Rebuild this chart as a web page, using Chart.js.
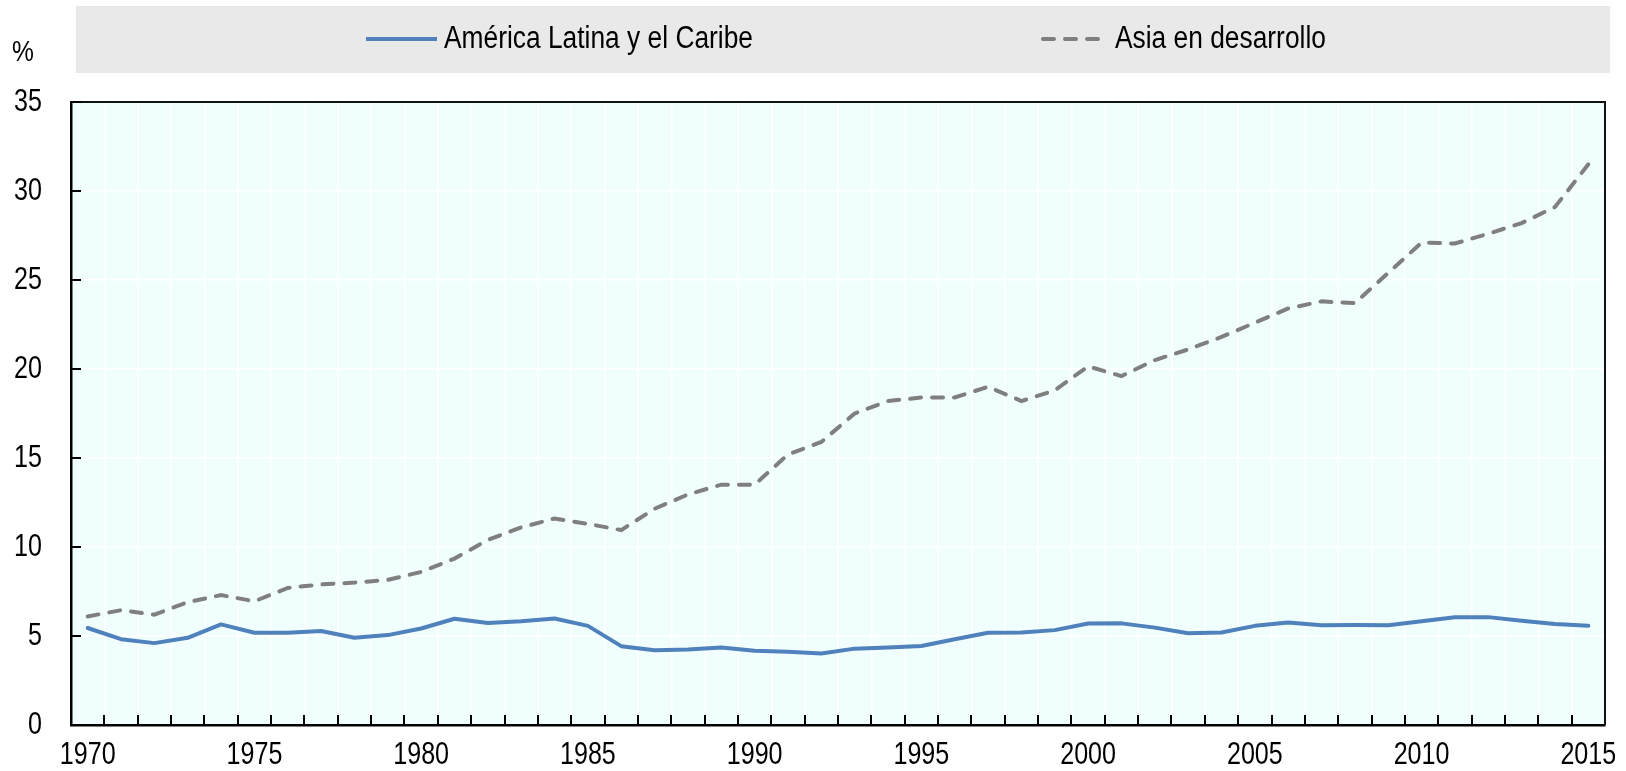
<!DOCTYPE html>
<html>
<head>
<meta charset="utf-8">
<script src="https://cdn.jsdelivr.net/npm/chart.js@4.4.1/dist/chart.umd.min.js"></script>
<style>
  html, body { margin: 0; padding: 0; background: #fff; }
  #wrap { width: 1626px; height: 771px; }
</style>
</head>
<body>
<div id="wrap"><canvas id="chart" width="1626" height="771"></canvas></div>
<script>
// categories (years)
const years = [1970, 1971, 1972, 1973, 1974, 1975, 1976, 1977, 1978, 1979,
  1980, 1981, 1982, 1983, 1984, 1985, 1986, 1987, 1988, 1989,
  1990, 1991, 1992, 1993, 1994, 1995, 1996, 1997, 1998, 1999,
  2000, 2001, 2002, 2003, 2004, 2005, 2006, 2007, 2008, 2009,
  2010, 2011, 2012, 2013, 2014, 2015];

// América Latina y el Caribe, %
const latam = [5.45, 4.82, 4.6, 4.9, 5.65, 5.18, 5.18, 5.28, 4.9, 5.05,
  5.42, 5.97, 5.73, 5.83, 5.98, 5.57, 4.43, 4.2, 4.24, 4.36,
  4.17, 4.11, 4.02, 4.29, 4.36, 4.44, 4.82, 5.18, 5.19, 5.33,
  5.7, 5.71, 5.47, 5.15, 5.2, 5.57, 5.76, 5.61, 5.62, 5.61,
  5.83, 6.05, 6.06, 5.86, 5.68, 5.58];

// Asia en desarrollo, %
const asia = [6.1, 6.45, 6.2, 6.9, 7.3, 6.95, 7.7, 7.9, 8.0, 8.15,
  8.6, 9.35, 10.4, 11.1, 11.6, 11.3, 10.95, 12.15, 12.95, 13.5,
  13.5, 15.2, 15.9, 17.5, 18.2, 18.4, 18.4, 19.0, 18.2, 18.8,
  20.15, 19.6, 20.5, 21.1, 21.8, 22.6, 23.4, 23.8, 23.7, 25.4,
  27.1, 27.05, 27.6, 28.2, 29.1, 31.5];

const seriesNames = ["América Latina y el Caribe", "Asia en desarrollo"];
const yTicks = [0, 5, 10, 15, 20, 25, 30, 35];
const xTickLabels = ["1970", "1975", "1980", "1985", "1990", "1995", "2000", "2005", "2010", "2015"];

const FONT = "'Liberation Sans', Arial, sans-serif";
const BLUE = "#4f81bd";
const GREY = "#7f7f7f";
const DASH = [11, 11];

// pas de police étroite installée : on compresse horizontalement
function narrowText(ctx, txt, x, y, align, size, squeeze) {
  ctx.save();
  ctx.font = size + "px " + FONT;
  ctx.fillStyle = "#000";
  ctx.textBaseline = "middle";
  ctx.textAlign = align;
  ctx.translate(x, y);
  ctx.scale(squeeze, 1);
  ctx.fillText(txt, 0, 0);
  ctx.restore();
}

// fond de la zone de tracé
const plotBg = {
  id: "plotBg",
  beforeDraw(chart) {
    const { ctx, chartArea: a } = chart;
    ctx.save();
    ctx.fillStyle = "#f0fefe";
    ctx.fillRect(a.left, a.top, a.right - a.left, a.bottom - a.top);
    ctx.restore();
  }
};

// cadre, graduations intérieures, étiquettes, légende et "%"
const extras = {
  id: "extras",
  afterDraw(chart) {
    const { ctx, chartArea: a } = chart;
    const xs = chart.scales.x, ys = chart.scales.y;
    ctx.save();

    // cadre haut / droite
    ctx.strokeStyle = "#111";
    ctx.lineWidth = 2;
    ctx.beginPath();
    ctx.moveTo(a.left, a.top);
    ctx.lineTo(a.right, a.top);
    ctx.lineTo(a.right, a.bottom);
    ctx.stroke();

    // graduations
    ctx.strokeStyle = "#000";
    ctx.lineWidth = 2;
    ctx.beginPath();
    const step = xs.getPixelForValue(1) - xs.getPixelForValue(0);
    for (let i = 1; i < years.length; i++) {
      const px = Math.round(xs.getPixelForValue(i) - step / 2);
      ctx.moveTo(px, a.bottom);
      ctx.lineTo(px, a.bottom - 10);
    }
    yTicks.forEach(v => {
      if (v === 0) return;
      const py = Math.round(ys.getPixelForValue(v));
      ctx.moveTo(a.left, py);
      ctx.lineTo(a.left + 10, py);
    });
    ctx.stroke();
    ctx.restore();

    // étiquettes des axes
    yTicks.forEach(v => {
      narrowText(ctx, String(v), 42, ys.getPixelForValue(v), "right", 31, 0.81);
    });
    years.forEach((yr, i) => {
      if (xTickLabels.includes(String(yr))) {
        narrowText(ctx, String(yr), xs.getPixelForValue(i), a.bottom + 30, "center", 31, 0.81);
      }
    });

    // légende
    ctx.save();
    ctx.fillStyle = "#e9e9e9";
    ctx.fillRect(76, 6, 1534, 67);
    const ly = 39;
    ctx.lineCap = "butt";
    ctx.strokeStyle = chart.data.datasets[0].borderColor;
    ctx.lineWidth = 4;
    ctx.beginPath();
    ctx.moveTo(366, ly);
    ctx.lineTo(437, ly);
    ctx.stroke();
    ctx.strokeStyle = chart.data.datasets[1].borderColor;
    ctx.lineCap = "round";
    ctx.setLineDash(DASH);
    ctx.beginPath();
    ctx.moveTo(1043, ly);
    ctx.lineTo(1106, ly);
    ctx.stroke();
    ctx.restore();

    narrowText(ctx, chart.data.datasets[0].label, 444, ly, "left", 31, 0.85);
    narrowText(ctx, chart.data.datasets[1].label, 1115, ly, "left", 31, 0.85);
    narrowText(ctx, "%", 12, 53, "left", 30, 0.82);
  }
};

new Chart(document.getElementById("chart"), {
  type: "line",
  data: {
    labels: years,
    datasets: [
      {
        label: seriesNames[0],
        data: latam,
        borderColor: BLUE,
        borderWidth: 4,
        pointRadius: 0,
        tension: 0,
        borderJoinStyle: "round",
        borderCapStyle: "round"
      },
      {
        label: seriesNames[1],
        data: asia,
        borderColor: GREY,
        borderWidth: 4,
        borderDash: DASH,
        borderCapStyle: "round",
        pointRadius: 0,
        tension: 0
      }
    ]
  },
  options: {
    responsive: false,
    animation: false,
    devicePixelRatio: 1,
    layout: { padding: { top: 102, right: 21, left: 0, bottom: 0 } },
    plugins: { legend: { display: false }, tooltip: { enabled: false } },
    scales: {
      x: {
        offset: true,
        grid: { offset: true, color: "#ffffff", lineWidth: 1.5, drawTicks: false },
        border: { color: "#000", width: 2.5 },
        ticks: { display: false, autoSkip: false },
        afterFit(s) { s.height = 46; }
      },
      y: {
        min: 0,
        max: 35,
        grid: { color: "#ffffff", lineWidth: 1.5, drawTicks: false },
        border: { color: "#000", width: 2.5 },
        ticks: { display: false, stepSize: 5 },
        afterFit(s) { s.width = 71; }
      }
    }
  },
  plugins: [plotBg, extras]
});
</script>
</body>
</html>
